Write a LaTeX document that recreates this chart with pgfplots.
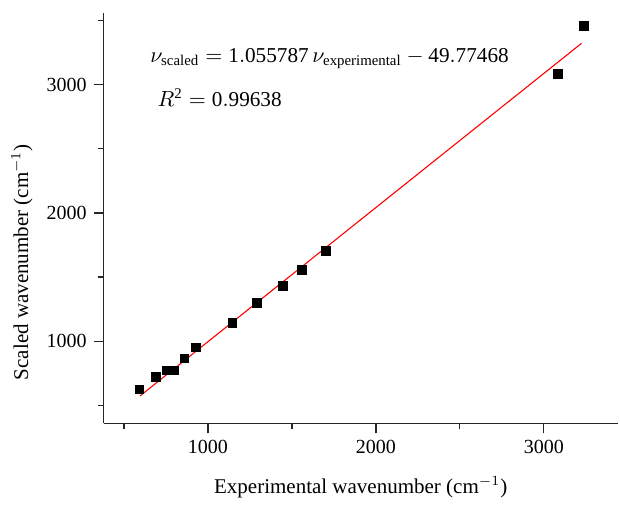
\documentclass[border=0pt]{standalone}
\usepackage{pgfplots}
\pgfplotsset{compat=1.18}
\usepackage{fontspec}
\setmainfont{Liberation Serif}

\begin{document}
\begin{tikzpicture}[x=1pt,y=1pt]
  \begin{axis}[
      scale only axis,
      width=257pt, height=205pt,
      xmin=379, xmax=3440,
      ymin=359, ymax=3558,
      axis x line*=bottom, axis y line*=left,
      axis line style={line width=0.6pt, black!85},
      xtick={1000,2000,3000}, ytick={1000,2000,3000},
      minor xtick={500,1500,2500}, minor ytick={500,1500,2500,3500},
      tick align=outside,
      major tick length=5pt, minor tick length=3pt,
      every tick/.style={line width=0.6pt, black!85},
      /pgf/number format/1000 sep={},
      /pgf/number format/assume math mode=true,
      ticklabel style={font=\fontsize{10}{12}\selectfont},
      xlabel={Experimental wavenumber (cm$^{-1}$)},
      ylabel={Scaled wavenumber (cm$^{-1}$)},
      label style={font=\fontsize{10.5}{12}\selectfont},
      xlabel style={at={(rel axis cs:0.5,-0.155)}, anchor=center},
      ylabel style={at={(rel axis cs:-0.159,0.393)}, anchor=center},
      clip=false,
    ]
    \addplot[only marks, mark=square*, mark size=2.2pt, black] coordinates {
      (591,623) (692,719) (752,771) (798,771) (859,865) (930,951)
      (1145,1141) (1293,1297) (1446,1430) (1560,1555) (1702,1701)
      (3085,3084) (3240,3461)
    };
    \addplot[red, line width=0.55pt] coordinates {(595,572) (3224,3323)};
    \node[anchor=west, inner sep=0pt, font=\fontsize{10.6}{12}\selectfont] at (rel axis cs:0.090,0.889)
      {$\nu_{\mathrm{scaled}} = \mathrm{1.055787}\,\nu_{\mathrm{experimental}} - \mathrm{49.77468}$};
    \node[anchor=west, inner sep=0pt, font=\fontsize{10.6}{12}\selectfont] at (rel axis cs:0.104,0.794)
      {$R^{\mathrm{2}} = \mathrm{0.99638}$};
    \path (rel axis cs:-0.2018,-0.1798) rectangle (rel axis cs:1.0045,1.0324);
  \end{axis}
\end{tikzpicture}
\end{document}
